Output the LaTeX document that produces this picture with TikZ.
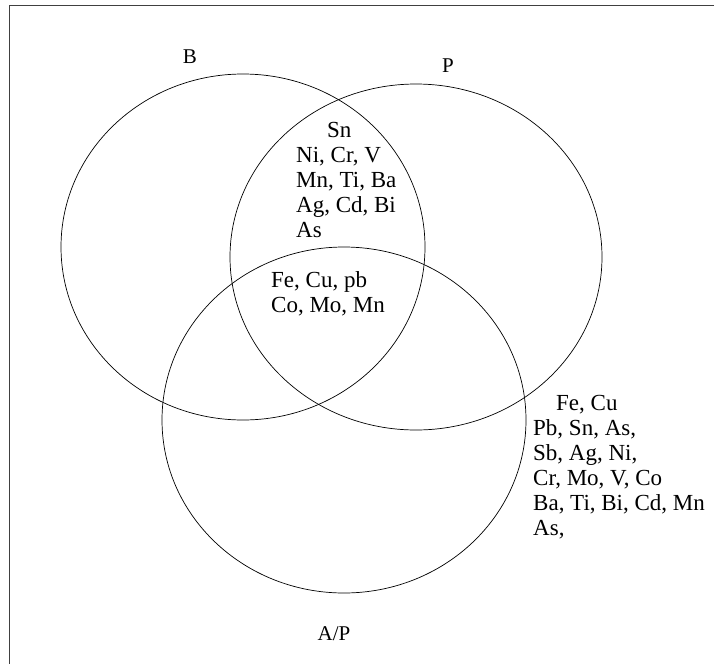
\documentclass[tikz,border=0pt]{standalone}
\usepackage{fontspec}
\setmainfont{Liberation Serif}
\usetikzlibrary{positioning}

\begin{document}
\begin{tikzpicture}[x=1pt, y=-1pt,
    setline/.style={line width=0.7pt},
    setname/.style={font=\fontsize{21}{24}\selectfont, inner sep=0pt, anchor=base},
    elems/.style={font=\fontsize{23}{25}\selectfont, align=left, inner sep=0pt, anchor=base west}
]
\useasboundingbox (0,0) rectangle (720,664);
% frame, only the top and left edges show
\draw[line width=1pt, black!75] (714,5.5) -- (9.5,5.5) -- (9.5,664);
% the three sets
\draw[setline] (243,247) ellipse [x radius=182, y radius=173];
\draw[setline] (416,257) ellipse [x radius=186, y radius=173];
\draw[setline] (344,420) ellipse [x radius=182, y radius=173];
\node[setname] (bname) at (190,63) {B};
\node[setname] (pname) at (448,72) {P};
\node[setname] (apname) at (334,640) {A/P};
% element lists (anchored at the last line)
\node[elems] (bp) at (296,237) {\hspace*{31pt}Sn\\Ni, Cr, V\\Mn, Ti, Ba\\Ag, Cd, Bi\\As};
\node[elems] (bpa) at (271,312) {Fe, Cu, pb\\Co, Mo, Mn};
\node[elems] (ap) at (533,535) {\hspace*{23pt}Fe, Cu\\Pb, Sn, As,\\Sb, Ag, Ni,\\Cr, Mo, V, Co\\Ba, Ti, Bi, Cd, Mn\\As,};
\end{tikzpicture}
\end{document}
